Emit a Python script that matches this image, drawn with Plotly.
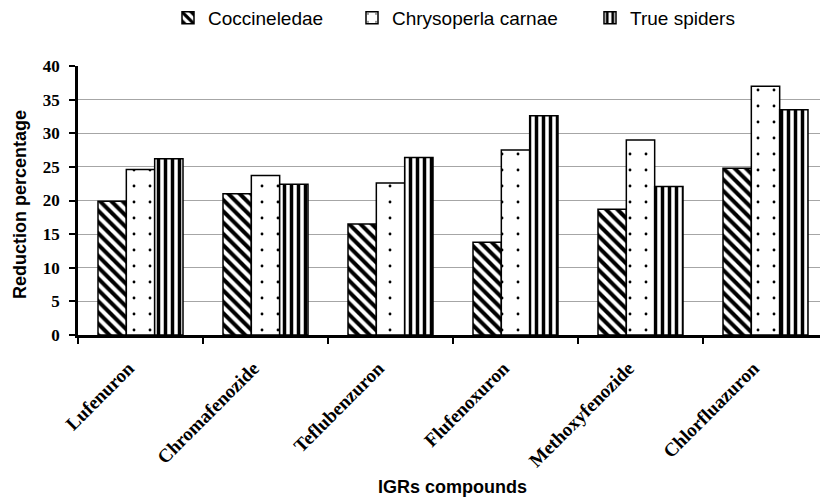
import plotly.graph_objects as go

categories = ["Lufenuron", "Chromafenozide", "Teflubenzuron", "Flufenoxuron",
              "Methoxyfenozide", "Chlorfluazuron"]
coccineledae = [19.9, 21.0, 16.5, 13.8, 18.7, 24.8]
chrysoperla = [24.6, 23.7, 22.6, 27.5, 29.0, 37.0]
true_spiders = [26.2, 22.4, 26.4, 32.6, 22.1, 33.5]
series_names = ["Coccineledae", "Chrysoperla carnae", "True spiders"]
y_ticks = [0, 5, 10, 15, 20, 25, 30, 35, 40]

W, H = 820, 499
L, R, T, B = 78, 0, 66, 164
PH = H - T - B
PW = W - L - R


def py(pixel_y):
    return (H - B - pixel_y) / PH


def px(pixel_x):
    return (pixel_x - L) / PW


fig = go.Figure()
patterns = [
    dict(shape="\\", size=8, solidity=0.5, fgcolor="black", bgcolor="white", fgopacity=1),
    dict(shape=".", size=16, solidity=0.025, fgcolor="black", bgcolor="white", fgopacity=1),
    dict(shape="|", size=7, solidity=0.5, fgcolor="black", bgcolor="white", fgopacity=1),
]
legend_ids = ["legend2", "legend3", "legend4"]
legend_text_x = [208, 392, 630]
for name, vals, pat, lg in zip(series_names, [coccineledae, chrysoperla, true_spiders],
                               patterns, legend_ids):
    fig.add_trace(go.Bar(
        x=categories, y=vals, name=name, legend=lg, showlegend=True,
        marker=dict(color="white", pattern=pat, line=dict(color="black", width=1.5)),
    ))

legend_style = dict(orientation="h", xanchor="left", y=py(18), yanchor="middle",
                    font=dict(family="Liberation Sans", size=19, color="black"),
                    bgcolor="rgba(0,0,0,0)")
fig.update_layout(
    showlegend=True,
    legend2=dict(x=px(legend_text_x[0] - 40), **legend_style),
    legend3=dict(x=px(legend_text_x[1] - 40), **legend_style),
    legend4=dict(x=px(legend_text_x[2] - 40), **legend_style),
)

fig.add_annotation(x=px(452), xref="paper", y=py(487), yref="paper",
                   text="<b>IGRs compounds</b>", showarrow=False, yanchor="middle",
                   font=dict(family="Liberation Sans", size=18, color="black"))
fig.add_annotation(x=px(20), xref="paper", y=py(205), yref="paper",
                   text="<b>Reduction percentage</b>", showarrow=False, textangle=-90,
                   xanchor="center", yanchor="middle",
                   font=dict(family="Liberation Sans", size=18, color="black"))

cat_px = 125.0  # pixel width of one category in the reference
fig.update_layout(
    width=W, height=H,
    margin=dict(l=L, r=R, t=T, b=B, autoexpand=False),
    plot_bgcolor="white", paper_bgcolor="white",
    barmode="group", bargap=0.32, bargroupgap=0,
    xaxis=dict(range=[-0.5, -0.5 + PW / cat_px],
               showline=True, linecolor="black", linewidth=2.5,
               ticks="outside", tickson="boundaries", ticklen=6, tickwidth=2, tickcolor="black",
               showgrid=False, tickangle=-45, ticklabelstandoff=12, ticklabelshift=-12,
               tickfont=dict(family="Liberation Serif", size=19, color="black", weight="bold")),
    yaxis=dict(range=[0, 40], tickvals=y_ticks, showline=True, linecolor="black", linewidth=2.5,
               ticks="outside", ticklen=6, tickwidth=2, tickcolor="black",
               showgrid=True, gridcolor="#a6a6a6", gridwidth=1, zeroline=False,
               ticklabelstandoff=6,
               tickfont=dict(family="Liberation Serif", size=17, color="black", weight="bold")),
)
fig.write_html("out.html", config={"displayModeBar": False},
               post_script="document.body.style.margin='0';")
